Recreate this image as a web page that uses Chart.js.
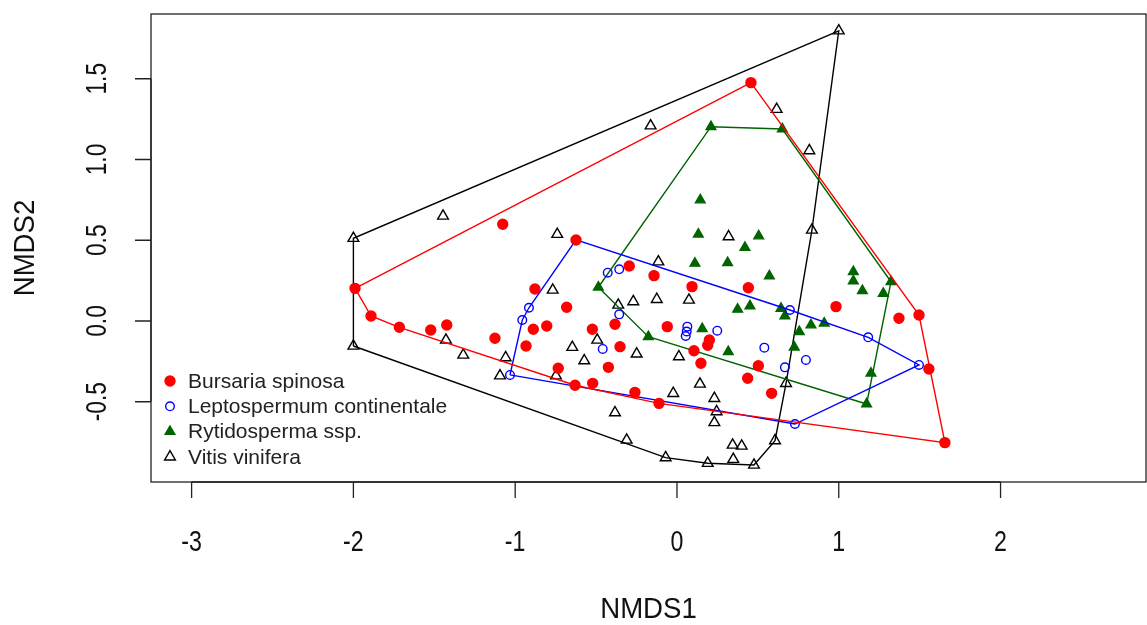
<!DOCTYPE html>
<html>
<head>
<meta charset="utf-8">
<script src="https://cdn.jsdelivr.net/npm/chart.js@4"></script>
<style>
  body { margin: 0; background: #fff; overflow: hidden; }
  canvas { display: block; }
</style>
</head>
<body>
<canvas id="nmdsChart" width="1147" height="625"></canvas>
<script>
// NMDS scores, [NMDS1, NMDS2]
const bursaria = [
	[0.457, 1.476], [-1.077, 0.599], [-0.624, 0.502], [-1.990, 0.202], [-1.891, 0.031],
	[-1.716, -0.039], [-1.522, -0.056], [-1.423, -0.025], [-1.125, -0.107], [-0.295, 0.341],
	[-0.142, 0.281], [0.093, 0.213], [-0.878, 0.198], [-0.682, 0.085], [-0.383, -0.020],
	[-0.805, -0.031], [-0.888, -0.051], [-0.523, -0.051], [-0.060, -0.035], [-0.933, -0.155],
	[-0.352, -0.159], [0.200, -0.118], [0.190, -0.150], [0.105, -0.184], [0.148, -0.262],
	[-0.734, -0.293], [-0.424, -0.287], [-0.630, -0.398], [-0.521, -0.386], [-0.260, -0.442],
	[-0.111, -0.510], [0.441, 0.206], [0.983, 0.089], [1.372, 0.017], [1.496, 0.037],
	[1.557, -0.297], [1.656, -0.753], [0.503, -0.277], [0.437, -0.355], [0.585, -0.448]
];
const leptospermum = [
	[-0.624, 0.502], [-0.357, 0.320], [-0.428, 0.299], [-0.915, 0.082], [-0.956, 0.006],
	[-0.357, 0.041], [0.064, -0.035], [0.060, -0.065], [0.054, -0.093], [0.249, -0.060],
	[-0.459, -0.173], [-1.032, -0.334], [0.698, 0.068], [1.182, -0.101], [0.540, -0.165],
	[0.797, -0.241], [0.667, -0.287], [1.496, -0.272], [0.729, -0.638]
];
const rytidosperma = [
	[0.210, 1.203], [0.651, 1.189], [0.144, 0.749], [0.132, 0.537], [0.505, 0.526],
	[0.420, 0.455], [0.313, 0.361], [0.111, 0.357], [0.571, 0.279], [1.090, 0.305],
	[1.090, 0.248], [1.146, 0.188], [1.323, 0.243], [1.275, 0.171], [0.375, 0.072],
	[0.451, 0.093], [0.643, 0.078], [0.667, 0.031], [0.828, -0.025], [0.910, -0.014],
	[0.756, -0.066], [0.156, -0.048], [0.317, -0.190], [0.725, -0.163], [1.199, -0.324],
	[1.172, -0.514], [-0.177, -0.097], [-0.486, 0.209]
];
const vitis = [
	[1.000, 1.797], [0.616, 1.311], [-0.163, 1.209], [0.818, 1.055], [-0.740, 0.537],
	[0.319, 0.522], [0.834, 0.563], [-2.000, 0.512], [-1.446, 0.650], [-2.000, -0.155],
	[-1.428, -0.118], [-1.321, -0.211], [-0.115, 0.367], [-0.768, 0.192], [-0.270, 0.120],
	[-0.125, 0.134], [0.074, 0.130], [-0.363, 0.099], [-0.493, -0.118], [-0.647, -0.163],
	[-0.249, -0.204], [-0.573, -0.246], [0.012, -0.221], [-1.059, -0.227], [-1.094, -0.339],
	[-0.748, -0.339], [-0.023, -0.448], [0.142, -0.390], [0.231, -0.479], [0.245, -0.561],
	[0.231, -0.629], [-0.383, -0.568], [-0.311, -0.737], [-0.070, -0.846], [0.190, -0.881],
	[0.674, -0.386], [0.606, -0.741], [0.344, -0.768], [0.400, -0.774], [0.348, -0.856],
	[0.476, -0.892]
];

const speciesNames = ['Bursaria spinosa', 'Leptospermum continentale', 'Rytidosperma ssp.', 'Vitis vinifera'];
const xTicks = [-3, -2, -1, 0, 1, 2];
const yTicks = [-0.5, 0.0, 0.5, 1.0, 1.5];

const FONT = '"Liberation Sans", Arial, sans-serif';

// convex hull (monotone chain), closed back to the first point
const hull = (pts) => {
	const p = pts.map(d => ({ x: d[0], y: d[1] })).sort((a, b) => a.x - b.x || a.y - b.y);
	const cross = (o, a, b) => (a.x - o.x) * (b.y - o.y) - (a.y - o.y) * (b.x - o.x);
	const lower = [], upper = [];
	p.forEach(q => {
		while (lower.length >= 2 && cross(lower[lower.length - 2], lower[lower.length - 1], q) <= 0) lower.pop();
		lower.push(q);
	});
	for (let i = p.length - 1; i >= 0; i--) {
		const q = p[i];
		while (upper.length >= 2 && cross(upper[upper.length - 2], upper[upper.length - 1], q) <= 0) upper.pop();
		upper.push(q);
	}
	const h = lower.slice(0, -1).concat(upper.slice(0, -1));
	h.push(h[0]);
	return h;
};

const toXY = (pts) => pts.map(d => ({ x: d[0], y: d[1] }));

const styles = [
	{ data: bursaria, color: 'rgb(255,0,0)', pointStyle: 'circle', radius: 5, fill: true },
	{ data: leptospermum, color: 'rgb(0,0,255)', pointStyle: 'circle', radius: 4.3, fill: false },
	{ data: rytidosperma, color: 'rgb(0,100,0)', pointStyle: 'triangle', radius: 5.6, fill: true },
	{ data: vitis, color: 'rgb(0,0,0)', pointStyle: 'triangle', radius: 6.2, fill: false }
];

const datasets = [];
styles.forEach((s, i) => {
	datasets.push({
		label: speciesNames[i],
		data: toXY(s.data),
		pointStyle: s.pointStyle,
		pointRadius: s.radius,
		pointBorderWidth: 1.4,
		pointBorderColor: s.color,
		pointBackgroundColor: s.fill ? s.color : 'rgba(0,0,0,0)',
		showLine: false
	});
	datasets.push({
		label: speciesNames[i] + ' hull',
		data: hull(s.data),
		showLine: true,
		borderColor: s.color,
		borderWidth: 1.4,
		pointRadius: 0,
		fill: false,
		tension: 0
	});
});

// narrow, tall glyphs like the original device font
const drawLabel = (ctx, text, x, y, size, squeeze, rotate) => {
	ctx.save();
	ctx.translate(x, y);
	if (rotate) ctx.rotate(-Math.PI / 2);
	ctx.scale(squeeze, 1);
	ctx.font = size + 'px ' + FONT;
	ctx.textAlign = 'center';
	ctx.textBaseline = 'middle';
	ctx.fillText(text, 0, 0);
	ctx.restore();
};

// R-style frame, axes, labels and legend
const basePlot = {
	id: 'basePlot',
	afterDraw(chart) {
		const { ctx, chartArea: { top, left, right, bottom }, scales: { x, y } } = chart;
		ctx.save();
		ctx.strokeStyle = '#222';
		ctx.lineWidth = 1.3;
		ctx.strokeRect(left, top, right - left, bottom - top);

		// x axis
		ctx.beginPath();
		ctx.moveTo(x.getPixelForValue(xTicks[0]), bottom);
		ctx.lineTo(x.getPixelForValue(xTicks[xTicks.length - 1]), bottom);
		xTicks.forEach(t => {
			const px = x.getPixelForValue(t);
			ctx.moveTo(px, bottom);
			ctx.lineTo(px, bottom + 16);
		});
		// y axis
		ctx.moveTo(left, y.getPixelForValue(yTicks[0]));
		ctx.lineTo(left, y.getPixelForValue(yTicks[yTicks.length - 1]));
		yTicks.forEach(t => {
			const py = y.getPixelForValue(t);
			ctx.moveTo(left, py);
			ctx.lineTo(left - 16, py);
		});
		ctx.stroke();

		ctx.fillStyle = '#111';
		xTicks.forEach(t => drawLabel(ctx, String(t), x.getPixelForValue(t), 543, 29, 0.8, false));
		yTicks.forEach(t => drawLabel(ctx, t.toFixed(1), 98, y.getPixelForValue(t), 29, 0.78, true));

		drawLabel(ctx, 'NMDS1', (left + right) / 2, 610, 30, 0.92, false);
		drawLabel(ctx, 'NMDS2', 26, (top + bottom) / 2, 30, 0.92, true);

		// legend
		ctx.font = '21px ' + FONT;
		ctx.textAlign = 'left';
		ctx.textBaseline = 'middle';
		styles.forEach((s, i) => {
			const ly = 381 + i * 25.3;
			ctx.strokeStyle = s.color;
			ctx.fillStyle = s.fill ? s.color : 'rgba(0,0,0,0)';
			ctx.lineWidth = 1.4;
			Chart.helpers.drawPoint(ctx, {
				pointStyle: s.pointStyle,
				radius: s.radius,
				borderWidth: 1.4
			}, 170, ly);
			ctx.fillStyle = '#222';
			ctx.fillText(speciesNames[i], 188, ly + 1);
		});
		ctx.restore();
	}
};

new Chart(document.getElementById('nmdsChart').getContext('2d'), {
	type: 'scatter',
	data: { datasets: datasets },
	options: {
		responsive: false,
		animation: false,
		layout: { autoPadding: false, padding: { left: 151, right: 1, top: 14, bottom: 143 } },
		plugins: {
			legend: { display: false },
			tooltip: { enabled: false }
		},
		scales: {
			x: { type: 'linear', min: -3.251, max: 2.899, display: false },
			y: { type: 'linear', min: -0.997, max: 1.901, display: false }
		}
	},
	plugins: [basePlot]
});
</script>
</body>
</html>
